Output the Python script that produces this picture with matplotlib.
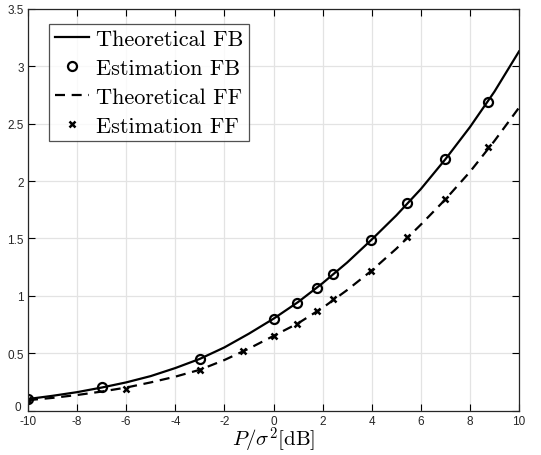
import numpy as np
import matplotlib
matplotlib.use('Agg')
import matplotlib.pyplot as plt
import matplotlib.transforms as mtrans

# theoretical curves, read at integer dB
snr_db = [-10, -9, -8, -7, -6, -5, -4, -3, -2, -1, 0, 1, 2, 3, 4, 5, 6, 7, 8, 9, 10]
theo_fb = [0.10, 0.128, 0.16, 0.20, 0.245, 0.30, 0.37, 0.45, 0.55, 0.67, 0.80,
           0.945, 1.11, 1.29, 1.49, 1.70, 1.93, 2.19, 2.47, 2.78, 3.13]
theo_ff = [0.09, 0.11, 0.135, 0.165, 0.20, 0.245, 0.295, 0.355, 0.44, 0.54, 0.65,
           0.76, 0.895, 1.05, 1.22, 1.41, 1.62, 1.84, 2.08, 2.35, 2.64]

# estimated points
est_fb_x = [-10, -7, -3, 0, 0.97, 1.76, 2.43, 3.98, 5.44, 6.99, 8.75]
est_fb_y = [0.104, 0.202, 0.45, 0.80, 0.94, 1.065, 1.187, 1.49, 1.81, 2.196, 2.687]
est_ff_x = [-10, -6.02, -3, -1.25, 0, 0.97, 1.76, 2.43, 3.98, 5.44, 6.99, 8.75]
est_ff_y = [0.09, 0.19, 0.355, 0.517, 0.653, 0.754, 0.865, 0.972, 1.219, 1.509, 1.84, 2.30]

plt.rcParams['mathtext.fontset'] = 'cm'
plt.rcParams['axes.unicode_minus'] = False

fig = plt.figure(figsize=(5.41, 4.56), dpi=100)
ax = fig.add_axes([28/541, 44.5/456, 491/541, 401.5/456])

ax.plot(snr_db, theo_fb, 'k-', lw=1.6, label='Theoretical FB')
ax.plot(est_fb_x, est_fb_y, 'ko', ls='none', mfc='none', ms=6.5, mew=1.6,
        label='Estimation FB')
ax.plot(snr_db, theo_ff, 'k--', lw=1.6, dashes=(4.5, 3), label='Theoretical FF')
ax.plot(est_ff_x, est_ff_y, 'kx', ls='none', ms=4.5, mew=1.8,
        label='Estimation FF')

ax.set_xlim(-10, 10)
ax.set_ylim(0, 3.5)
ax.set_xticks(np.arange(-10, 11, 2))
ax.set_yticks(np.arange(0, 3.6, 0.5))
ax.set_yticklabels(['0', '0.5', '1', '1.5', '2', '2.5', '3', '3.5'])
ax.grid(True, color='#e3e3e3', lw=0.9)
ax.set_axisbelow(True)
ax.tick_params(direction='in', top=True, right=True, length=5, width=0.8,
               labelsize=8.5, pad=3)
for lab in ax.get_xticklabels() + ax.get_yticklabels():
    lab.set_family('Liberation Sans')
    lab.set_color('#262626')
for s in ax.spines.values():
    s.set_linewidth(0.9)
    s.set_color('#262626')

# nudge the "0" on y up a bit, like the original
zero_lab = ax.yaxis.get_major_ticks()[0].label1
zero_lab.set_transform(zero_lab.get_transform() +
                       mtrans.ScaledTranslation(-3/100, 5/100, fig.dpi_scale_trans))

ax.set_xlabel(r'$P/\sigma^2[\mathrm{dB}]$', fontsize=15, labelpad=-1)

leg = ax.legend(loc='upper left', bbox_to_anchor=(21/491, 1 - 15/401.5),
                prop={'family': 'cmr10', 'size': 16},
                frameon=True, fancybox=False, edgecolor='#262626',
                handlelength=1.55, handletextpad=0.3, labelspacing=0.42,
                borderpad=0.25, borderaxespad=0)
leg.get_frame().set_linewidth(0.9)

plt.savefig('out.png', dpi=100)
